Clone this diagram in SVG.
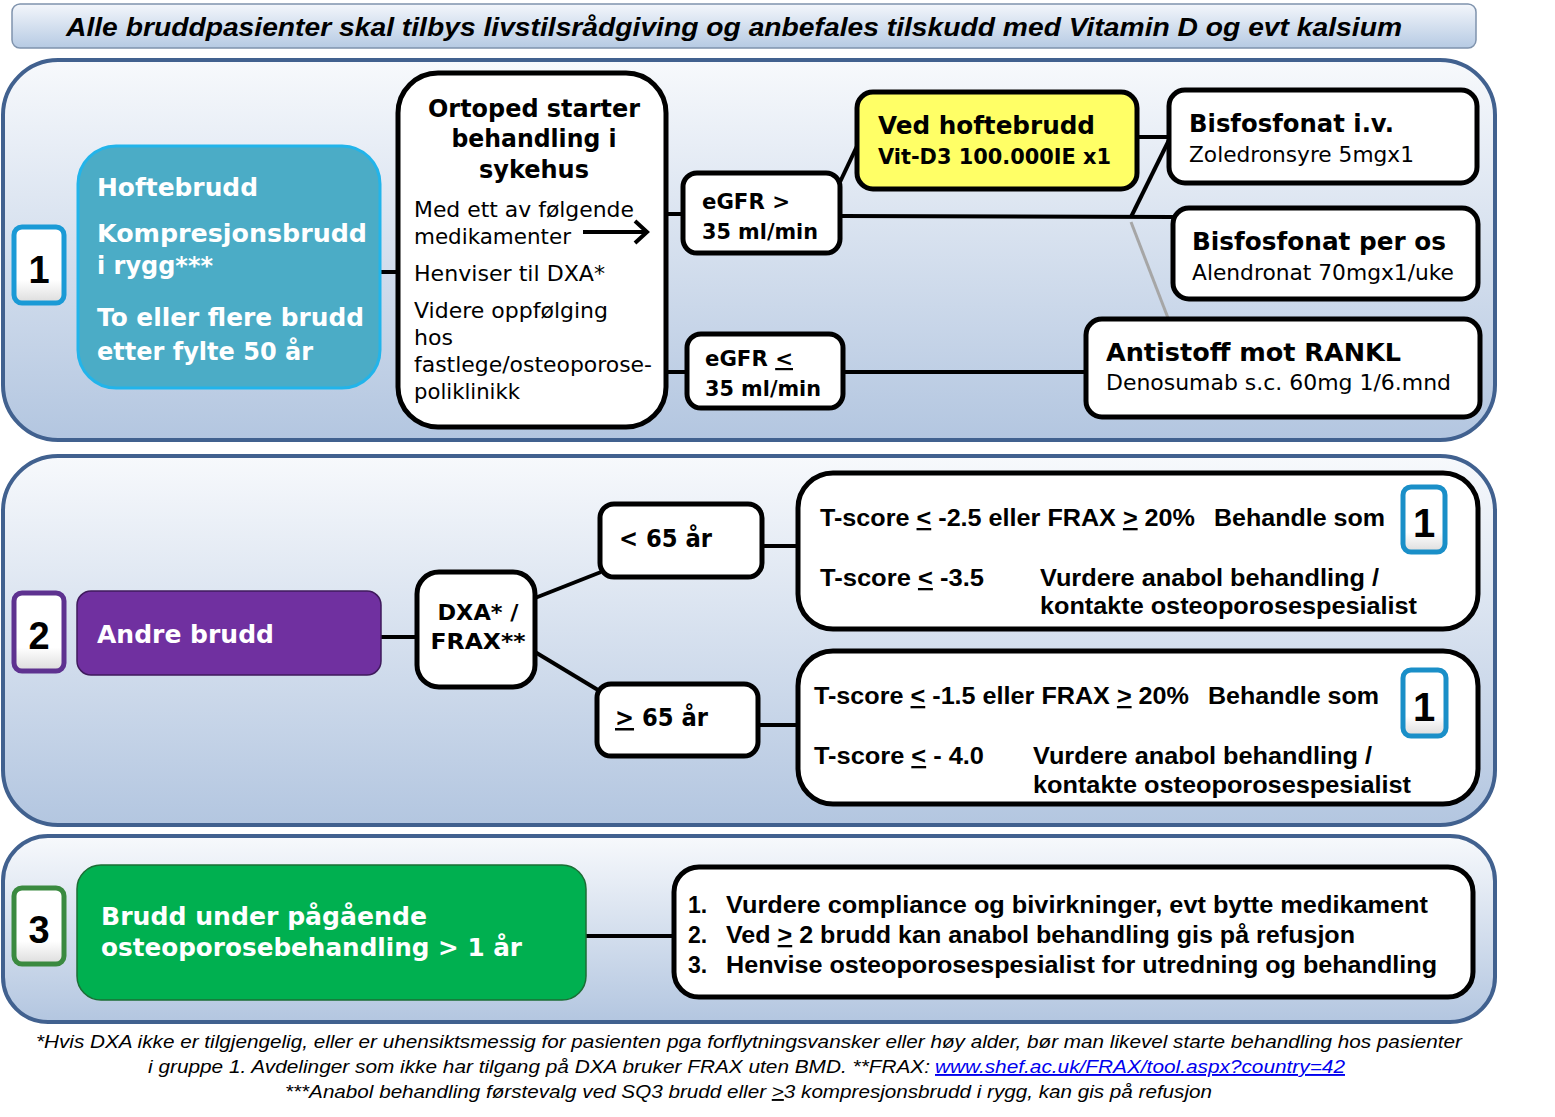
<svg xmlns="http://www.w3.org/2000/svg" width="1555" height="1117" viewBox="0 0 1555 1117">
<defs>
<linearGradient id="pg" x1="0" y1="0" x2="0" y2="1"><stop offset="0" stop-color="#f7f9fc"/><stop offset="1" stop-color="#b3c6e0"/></linearGradient>
<linearGradient id="tg" x1="0" y1="0" x2="0" y2="1"><stop offset="0" stop-color="#f3f6fb"/><stop offset="1" stop-color="#b6cae3"/></linearGradient>
<linearGradient id="bg" x1="0" y1="0" x2="0" y2="1"><stop offset="0" stop-color="#ffffff"/><stop offset="0.7" stop-color="#ffffff"/><stop offset="1" stop-color="#dcdcdc"/></linearGradient>
</defs>
<style>
.panel{fill:url(#pg);stroke:#41618f;stroke-width:4}
.node{fill:#fff;stroke:#000;stroke-width:5}
.badge{fill:url(#bg);stroke-width:5}
.conn line{stroke:#000;stroke-width:4;fill:none}
.v{font-family:"DejaVu Sans",Verdana,sans-serif}
.a{font-family:"Liberation Sans",Arial,sans-serif}
.b{font-weight:bold}
.w{fill:#fff}
.k{fill:#000}
.u{text-decoration:underline}
.num{font-family:"Liberation Sans",Arial,sans-serif;font-weight:bold;fill:#000}
</style>

<g id="title">
<rect x="12" y="4" width="1464" height="44" rx="8" fill="url(#tg)" stroke="#7f93ad" stroke-width="1.5"/>
<text x="66" y="36" class="a b k" font-style="italic" font-size="26" textLength="1336" lengthAdjust="spacingAndGlyphs">Alle bruddpasienter skal tilbys livstilsrådgiving og anbefales tilskudd med Vitamin D og evt kalsium</text>
</g>

<g id="panels">
<rect class="panel" x="3" y="60" width="1492" height="380" rx="55"/>
<rect class="panel" x="3" y="456" width="1492" height="369" rx="55"/>
<rect class="panel" x="3" y="836" width="1492" height="186" rx="45"/>
</g>

<g class="conn" id="connectors">
<line x1="380" y1="272" x2="398" y2="272"/>
<line x1="666" y1="214" x2="683" y2="214"/>
<line x1="666" y1="372" x2="687" y2="372"/>
<line x1="840" y1="182" x2="858" y2="144"/>
<line x1="840" y1="216" x2="1173" y2="217"/>
<line x1="1137" y1="137" x2="1169" y2="137"/>
<line x1="1131" y1="217" x2="1169" y2="140"/>
<line x1="1131" y1="222" x2="1168" y2="318" style="stroke:#a6a6a6;stroke-width:3"/>
<line x1="843" y1="372" x2="1086" y2="372"/>
<line x1="381" y1="637" x2="417" y2="637"/>
<line x1="535" y1="598" x2="601" y2="572"/>
<line x1="535" y1="652" x2="598" y2="690"/>
<line x1="762" y1="546" x2="798" y2="546"/>
<line x1="758" y1="725" x2="798" y2="725"/>
<line x1="586" y1="936" x2="674" y2="936"/>
</g>

<g id="badge1">
<rect class="badge" x="14" y="227" width="50" height="76" rx="8" stroke="#1a9ad6"/>
<text x="39" y="283" text-anchor="middle" class="num" font-size="38">1</text>
</g>
<g id="hoftebrudd">
<rect x="78" y="146" width="302" height="242" rx="38" fill="#4bacc6" stroke="#22b4ea" stroke-width="3"/>
<text class="v b w" font-size="25" x="97" y="196" textLength="161" lengthAdjust="spacingAndGlyphs">Hoftebrudd</text>
<text class="v b w" font-size="25" x="97" y="242" textLength="270" lengthAdjust="spacingAndGlyphs">Kompresjonsbrudd</text>
<text class="v b w" font-size="25" x="97" y="274" textLength="116" lengthAdjust="spacingAndGlyphs">i rygg***</text>
<text class="v b w" font-size="25" x="97" y="326" textLength="267" lengthAdjust="spacingAndGlyphs">To eller flere brudd</text>
<text class="v b w" font-size="25" x="97" y="360" textLength="216" lengthAdjust="spacingAndGlyphs">etter fylte 50 år</text>
</g>
<g id="ortoped">
<rect class="node" x="398" y="73" width="268" height="354" rx="40"/>
<text class="v b k" font-size="25" x="534" y="117" text-anchor="middle" textLength="212" lengthAdjust="spacingAndGlyphs">Ortoped starter</text>
<text class="v b k" font-size="25" x="534" y="147" text-anchor="middle" textLength="165" lengthAdjust="spacingAndGlyphs">behandling i</text>
<text class="v b k" font-size="25" x="534" y="178" text-anchor="middle" textLength="110" lengthAdjust="spacingAndGlyphs">sykehus</text>
<text class="v k" font-size="22" x="414" y="217" textLength="220" lengthAdjust="spacingAndGlyphs">Med ett av følgende</text>
<text class="v k" font-size="22" x="414" y="244" textLength="157" lengthAdjust="spacingAndGlyphs">medikamenter</text>
<line x1="583" y1="232" x2="645" y2="232" stroke="#000" stroke-width="4"/>
<polyline points="635,221 647,232 635,243" fill="none" stroke="#000" stroke-width="4"/>
<text class="v k" font-size="22" x="414" y="281" textLength="191" lengthAdjust="spacingAndGlyphs">Henviser til DXA*</text>
<text class="v k" font-size="22" x="414" y="318" textLength="194" lengthAdjust="spacingAndGlyphs">Videre oppfølging</text>
<text class="v k" font-size="22" x="414" y="345" textLength="39" lengthAdjust="spacingAndGlyphs">hos</text>
<text class="v k" font-size="22" x="414" y="372" textLength="238" lengthAdjust="spacingAndGlyphs">fastlege/osteoporose-</text>
<text class="v k" font-size="22" x="414" y="399" textLength="106" lengthAdjust="spacingAndGlyphs">poliklinikk</text>
</g>
<g id="egfr-high">
<rect class="node" x="683" y="173" width="157" height="80" rx="14"/>
<text class="v b k" font-size="22" x="702" y="209" textLength="88" lengthAdjust="spacingAndGlyphs">eGFR &gt;</text>
<text class="v b k" font-size="22" x="702" y="239" textLength="116" lengthAdjust="spacingAndGlyphs">35 ml/min</text>
</g>
<g id="egfr-low">
<rect class="node" x="687" y="334" width="156" height="74" rx="14"/>
<text class="v b k" font-size="22" x="705" y="366" textLength="88" lengthAdjust="spacingAndGlyphs">eGFR <tspan class="u">&lt;</tspan></text>
<text class="v b k" font-size="22" x="705" y="396" textLength="116" lengthAdjust="spacingAndGlyphs">35 ml/min</text>
</g>
<g id="ved-hoftebrudd">
<rect x="857" y="92" width="280" height="97" rx="16" fill="#ffff66" stroke="#000" stroke-width="5"/>
<text class="v b k" font-size="24" x="878" y="134" textLength="217" lengthAdjust="spacingAndGlyphs">Ved hoftebrudd</text>
<text class="v b k" font-size="21" x="878" y="164" textLength="233" lengthAdjust="spacingAndGlyphs">Vit-D3 100.000IE x1</text>
</g>
<g id="bisfosfonat-iv">
<rect class="node" x="1169" y="90" width="308" height="93" rx="16"/>
<text class="v b k" font-size="24" x="1189" y="132" textLength="205" lengthAdjust="spacingAndGlyphs">Bisfosfonat i.v.</text>
<text class="v k" font-size="21" x="1189" y="162" textLength="225" lengthAdjust="spacingAndGlyphs">Zoledronsyre 5mgx1</text>
</g>
<g id="bisfosfonat-os">
<rect class="node" x="1173" y="208" width="305" height="91" rx="16"/>
<text class="v b k" font-size="24" x="1192" y="250" textLength="254" lengthAdjust="spacingAndGlyphs">Bisfosfonat per os</text>
<text class="v k" font-size="21" x="1192" y="280" textLength="262" lengthAdjust="spacingAndGlyphs">Alendronat 70mgx1/uke</text>
</g>
<g id="antistoff">
<rect class="node" x="1086" y="319" width="394" height="98" rx="16"/>
<text class="v b k" font-size="24" x="1106" y="361" textLength="295" lengthAdjust="spacingAndGlyphs">Antistoff mot RANKL</text>
<text class="v k" font-size="21" x="1106" y="390" textLength="345" lengthAdjust="spacingAndGlyphs">Denosumab s.c. 60mg 1/6.mnd</text>
</g>

<g id="badge2">
<rect class="badge" x="14" y="593" width="50" height="78" rx="8" stroke="#5e3290"/>
<text x="39" y="649" text-anchor="middle" class="num" font-size="38">2</text>
</g>
<g id="andre-brudd">
<rect x="77" y="591" width="304" height="84" rx="14" fill="#7030a0" stroke="#3f1a5c" stroke-width="1.5"/>
<text class="v b w" font-size="25" x="97" y="643" textLength="177" lengthAdjust="spacingAndGlyphs">Andre brudd</text>
</g>
<g id="dxa-frax">
<rect class="node" x="417" y="572" width="118" height="115" rx="22"/>
<text class="v b k" font-size="22" x="478" y="620" text-anchor="middle" textLength="81" lengthAdjust="spacingAndGlyphs">DXA* /</text>
<text class="v b k" font-size="22" x="478" y="649" text-anchor="middle" textLength="95" lengthAdjust="spacingAndGlyphs">FRAX**</text>
</g>
<g id="under65">
<rect class="node" x="600" y="504" width="162" height="73" rx="14"/>
<text class="v b k" font-size="25" x="619" y="547" textLength="93" lengthAdjust="spacingAndGlyphs">&lt; 65 år</text>
</g>
<g id="over65">
<rect class="node" x="597" y="684" width="161" height="72" rx="14"/>
<text class="v b k" font-size="25" x="615" y="726" textLength="93" lengthAdjust="spacingAndGlyphs"><tspan class="u">&gt;</tspan> 65 år</text>
</g>
<g id="tscore-under65">
<rect class="node" x="798" y="473" width="680" height="156" rx="35"/>
<text class="a b k" font-size="23" x="820" y="526" textLength="375" lengthAdjust="spacingAndGlyphs">T-score <tspan class="u">&lt;</tspan> -2.5 eller FRAX <tspan class="u">&gt;</tspan> 20%</text>
<text class="a b k" font-size="23" x="1214" y="526" textLength="171" lengthAdjust="spacingAndGlyphs">Behandle som</text>
<rect class="badge" x="1403" y="487" width="42" height="65" rx="8" stroke="#1a8fc8" stroke-width="4"/>
<text x="1424" y="537" text-anchor="middle" class="num" font-size="40">1</text>
<text class="a b k" font-size="23" x="820" y="586" textLength="164" lengthAdjust="spacingAndGlyphs">T-score <tspan class="u">&lt;</tspan> -3.5</text>
<text class="a b k" font-size="23" x="1040" y="586" textLength="339" lengthAdjust="spacingAndGlyphs">Vurdere anabol behandling /</text>
<text class="a b k" font-size="23" x="1040" y="614" textLength="377" lengthAdjust="spacingAndGlyphs">kontakte osteoporosespesialist</text>
</g>
<g id="tscore-over65">
<rect class="node" x="798" y="651" width="680" height="153" rx="35"/>
<text class="a b k" font-size="23" x="814" y="704" textLength="375" lengthAdjust="spacingAndGlyphs">T-score <tspan class="u">&lt;</tspan> -1.5 eller FRAX <tspan class="u">&gt;</tspan> 20%</text>
<text class="a b k" font-size="23" x="1208" y="704" textLength="171" lengthAdjust="spacingAndGlyphs">Behandle som</text>
<rect class="badge" x="1403" y="670" width="43" height="66" rx="8" stroke="#1a8fc8" stroke-width="4"/>
<text x="1424" y="721" text-anchor="middle" class="num" font-size="40">1</text>
<text class="a b k" font-size="23" x="814" y="764" textLength="170" lengthAdjust="spacingAndGlyphs">T-score <tspan class="u">&lt;</tspan> - 4.0</text>
<text class="a b k" font-size="23" x="1033" y="764" textLength="339" lengthAdjust="spacingAndGlyphs">Vurdere anabol behandling /</text>
<text class="a b k" font-size="23" x="1033" y="793" textLength="378" lengthAdjust="spacingAndGlyphs">kontakte osteoporosespesialist</text>
</g>

<g id="badge3">
<rect class="badge" x="14" y="888" width="50" height="76" rx="8" stroke="#3a8a40"/>
<text x="39" y="943" text-anchor="middle" class="num" font-size="38">3</text>
</g>
<g id="brudd-under">
<rect x="77" y="865" width="509" height="135" rx="24" fill="#00b050" stroke="#1b6e35" stroke-width="1.5"/>
<text class="v b w" font-size="25" x="101" y="925" textLength="326" lengthAdjust="spacingAndGlyphs">Brudd under pågående</text>
<text class="v b w" font-size="25" x="101" y="956" textLength="421" lengthAdjust="spacingAndGlyphs">osteoporosebehandling &gt; 1 år</text>
</g>
<g id="tiltak">
<rect class="node" x="674" y="867" width="799" height="130" rx="25"/>
<text class="a b k" font-size="23" x="688" y="913">1.</text>
<text class="a b k" font-size="23" x="726" y="913" textLength="702" lengthAdjust="spacingAndGlyphs">Vurdere compliance og bivirkninger, evt bytte medikament</text>
<text class="a b k" font-size="23" x="688" y="943">2.</text>
<text class="a b k" font-size="23" x="726" y="943" textLength="629" lengthAdjust="spacingAndGlyphs">Ved <tspan class="u">&gt;</tspan> 2 brudd kan anabol behandling gis på refusjon</text>
<text class="a b k" font-size="23" x="688" y="973">3.</text>
<text class="a b k" font-size="23" x="726" y="973" textLength="711" lengthAdjust="spacingAndGlyphs">Henvise osteoporosespesialist for utredning og behandling</text>
</g>

<g id="footnotes" class="a k" font-style="italic" font-size="19">
<text x="36" y="1048" textLength="1426" lengthAdjust="spacingAndGlyphs">*Hvis DXA ikke er tilgjengelig, eller er uhensiktsmessig for pasienten pga forflytningsvansker eller høy alder, bør man likevel starte behandling hos pasienter</text>
<text x="148" y="1073" textLength="782" lengthAdjust="spacingAndGlyphs">i gruppe 1. Avdelinger som ikke har tilgang på DXA bruker FRAX uten BMD. **FRAX:</text>
<text x="935" y="1073" textLength="410" lengthAdjust="spacingAndGlyphs" fill="#0000ee" text-decoration="underline">www.shef.ac.uk/FRAX/tool.aspx?country=42</text>
<text x="285" y="1098" textLength="927" lengthAdjust="spacingAndGlyphs">***Anabol behandling førstevalg ved SQ3 brudd eller <tspan class="u">&gt;</tspan>3 kompresjonsbrudd i rygg, kan gis på refusjon</text>
</g>
</svg>
